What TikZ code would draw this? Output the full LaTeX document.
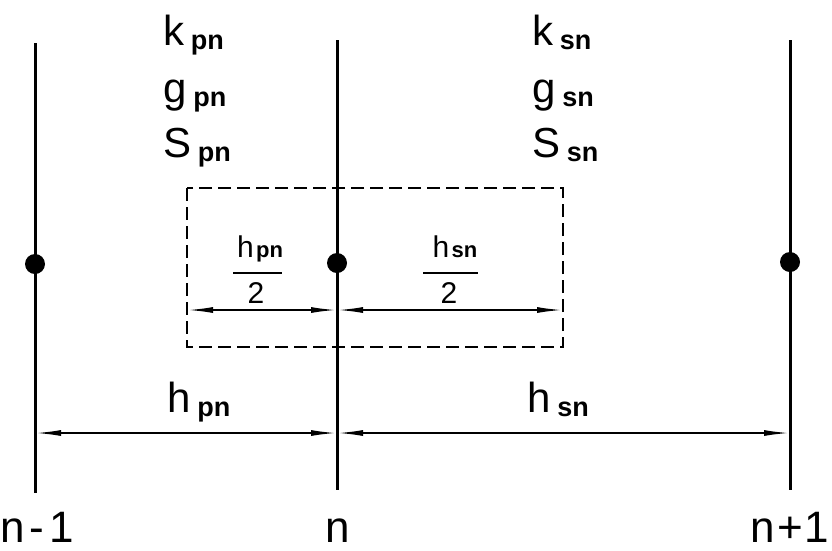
\documentclass[tikz,border=0pt]{standalone}
\usepackage{fontspec}
\setmainfont{Liberation Sans}
\usetikzlibrary{arrows.meta}
\newcommand\subL[1]{\hspace{0.16em}\raisebox{-0.1em}{\fontsize{27}{27}\selectfont\bfseries #1}}
\newcommand\subM[1]{\hspace{0.08em}{\fontsize{22}{22}\selectfont\bfseries #1}}
\tikzset{
  gridline/.style={line width=3pt},
  dimline/.style={line width=1.8pt, {Latex[length=26pt,width=6pt]}-{Latex[length=26pt,width=6pt]}},
  dashbox/.style={line width=2.2pt, dash pattern=on 13pt off 6pt},
  dot/.style={circle, fill=black, inner sep=0pt, minimum size=20pt},
  biglabel/.style={font=\fontsize{42}{42}\selectfont, inner sep=0pt, anchor=base west},
  fraclabel/.style={font=\fontsize{30}{30}\selectfont, inner sep=0pt, anchor=base},
  nlabel/.style={font=\fontsize{44}{44}\selectfont, inner sep=0pt, anchor=base},
  fracbar/.style={line width=2pt}
}
\begin{document}
\begin{tikzpicture}[x=1pt,y=-1pt]
\useasboundingbox (0,0) rectangle (832,550);
% grid line end points
\coordinate (Lt) at (35,43);  \coordinate (Lb) at (35,493);
\coordinate (Mt) at (337,40); \coordinate (Mb) at (337,490);
\coordinate (Rt) at (790,40); \coordinate (Rb) at (790,490);
\draw[gridline] (Lt) -- (Lb);
\draw[gridline] (Mt) -- (Mb);
\draw[gridline] (Rt) -- (Rb);
% dots
\node[dot] (dL) at (35,264) {};
\node[dot] (dM) at (337,263) {};
\node[dot] (dR) at (790,262) {};
% dashed box
\draw[dashbox] (187,188) rectangle (563,347);
% half-step dimension
\coordinate (hA) at (187,310); \coordinate (hM) at (337,310); \coordinate (hB) at (563,310);
\draw[dimline] (hA) -- (hM);
\draw[dimline] (hM) -- (hB);
% full-step dimension
\coordinate (fA) at (35,433); \coordinate (fM) at (337,433); \coordinate (fB) at (790,433);
\draw[dimline] (fA) -- (fM);
\draw[dimline] (fM) -- (fB);
% property labels
\node[biglabel] (kpn) at (163,45)  {k\subL{pn}};
\node[biglabel] (gpn) at (163,102) {g\subL{pn}};
\node[biglabel] (Spn) at (163,157) {S\subL{pn}};
\node[biglabel] (ksn) at (532,45)  {k\subL{sn}};
\node[biglabel] (gsn) at (532,102) {g\subL{sn}};
\node[biglabel] (Ssn) at (532,157) {S\subL{sn}};
% fractions
\node[fraclabel] (fnp) at (260,257) {h\subM{pn}};
\draw[fracbar] (233,273) -- (282,273);
\node[fraclabel] (fdp) at (256,303) {2};
\node[fraclabel] (fns) at (455,257) {h\subM{sn}};
\draw[fracbar] (423,273) -- (478,273);
\node[fraclabel] (fds) at (449,303) {2};
% step labels
\node[biglabel] (hpn) at (167,412) {h\subL{pn}};
\node[biglabel] (hsn) at (527,412) {h\subL{sn}};
% node indices
\node[nlabel] (n1) at (37,542) {n\hspace{5pt}-\hspace{5pt}1};
\node[nlabel] (n0) at (338,542) {n};
\node[nlabel] (n2) at (790,542) {n\hspace{2pt}+\hspace{2pt}1};
\end{tikzpicture}
\end{document}
